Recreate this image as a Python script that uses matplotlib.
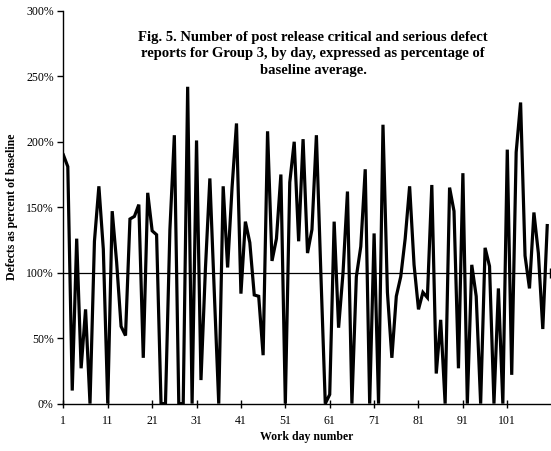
import matplotlib
matplotlib.use("Agg")
import matplotlib.pyplot as plt
from matplotlib.ticker import FuncFormatter

# defects per day as percent of baseline average, days 1..110
days = list(range(1, 111))
defect_pct = [
    190, 181, 10, 126, 27, 72, 0, 124, 166, 118,
    0, 147, 108, 59, 52, 141, 143, 152, 35, 161,
    132, 129, 0, 0, 133, 205, 0, 0, 242, 0,
    201, 18, 103, 172, 85, 0, 166, 104, 165, 214,
    84, 139, 123, 83, 82, 37, 208, 109, 126, 175,
    0, 169, 200, 124, 202, 115, 133, 205, 100, 0,
    7, 139, 58, 100, 162, 0, 97, 120, 179, 0,
    130, 0, 213, 85, 35, 82, 97, 126, 166, 106,
    72, 85, 81, 167, 23, 64, 0, 165, 147, 27,
    176, 0, 106, 82, 0, 119, 105, 0, 88, 0,
    194, 22, 192, 230, 113, 88, 146, 115, 57, 136,
]
baseline = 100
x_ticks = list(range(1, 111, 10))
y_ticks = [0, 50, 100, 150, 200, 250, 300]

title = ("Fig. 5. Number of post release critical and serious defect\n"
         "reports for Group 3, by day, expressed as percentage of\n"
         "baseline average.")

plt.rcParams['font.family'] = ['Liberation Serif', 'DejaVu Serif']

fig = plt.figure(figsize=(5.51, 4.51), dpi=100)
ax = fig.add_axes([0.115, 0.105, 0.883, 0.871])

x_end = 110.6
ax.plot(days, defect_pct, color='black', linewidth=2.3, solid_joinstyle='miter')
ax.axhline(baseline, color='black', linewidth=0.9)
ax.plot([x_end], [baseline], marker='|', color='black', markersize=7, clip_on=False)

ax.set_xlim(1, x_end)
ax.set_ylim(0, 300)
ax.set_xticks(x_ticks)
ax.set_yticks(y_ticks)
ax.yaxis.set_major_formatter(FuncFormatter(lambda v, p: f"{v:.0f}%"))

for s in ['top', 'right']:
    ax.spines[s].set_visible(False)
ax.spines['left'].set_linewidth(1.0)
ax.spines['bottom'].set_linewidth(1.0)
ax.tick_params(axis='x', direction='inout', length=6, width=1, labelsize=8.5, pad=5)
ax.tick_params(axis='y', direction='out', length=4, width=1, labelsize=8.5, pad=3)

ax.set_xlabel('Work day number', fontsize=8.5, fontweight='bold', labelpad=3)
ax.set_ylabel('Defects as percent of baseline', fontsize=8.5, fontweight='bold', labelpad=6)

fig.text(313 / 551, 1 - 31 / 451, title, ha='center', va='top',
         fontsize=10.5, fontweight='bold', linespacing=1.35)

fig.savefig('out.png', dpi=100)
